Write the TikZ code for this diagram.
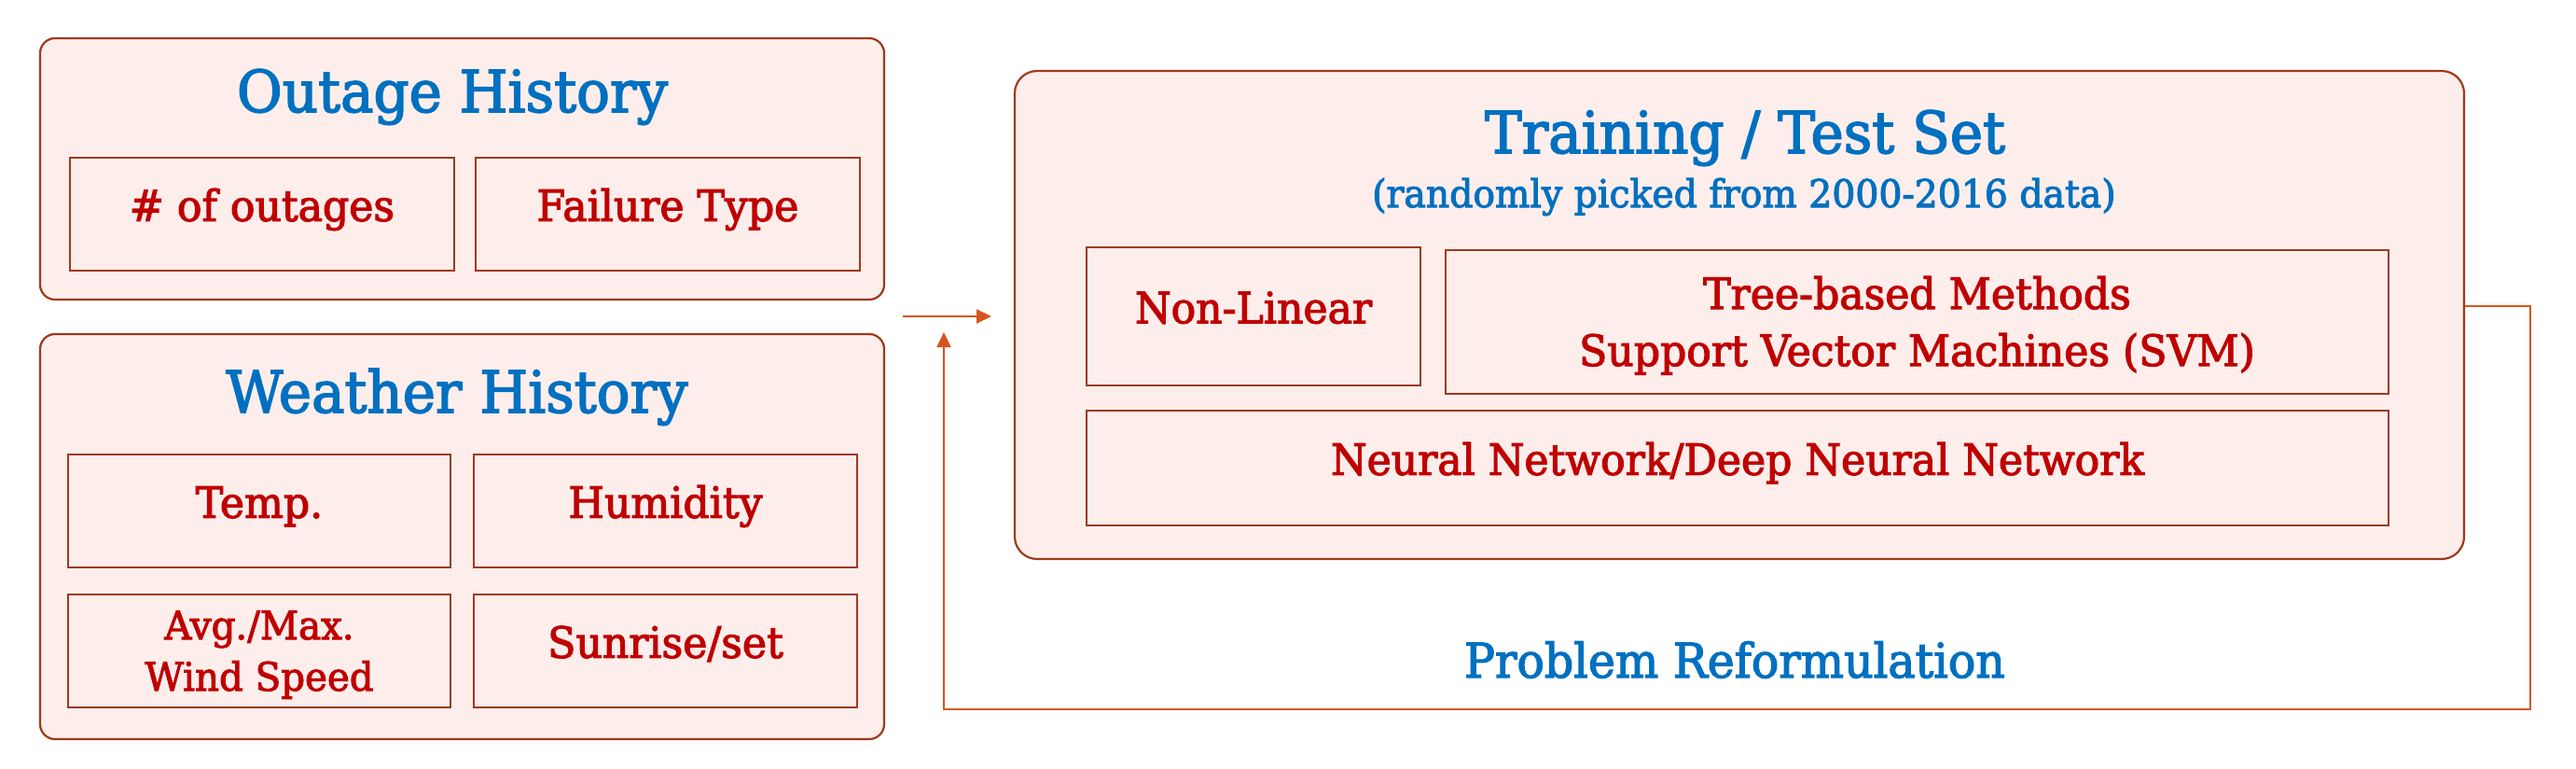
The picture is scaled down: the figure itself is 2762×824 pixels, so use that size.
\documentclass[tikz,border=0pt]{standalone}
\usepackage{fontspec}
\setmainfont{DejaVu Serif}[FakeStretch=0.96,FakeBold=2.5]
\usetikzlibrary{arrows.meta}
\definecolor{bordc}{HTML}{A0391A}
\definecolor{fillc}{HTML}{FDEEEC}
\definecolor{redt}{HTML}{C00000}
\definecolor{bluet}{HTML}{0070C0}
\definecolor{conc}{HTML}{D9541E}
\tikzset{
  outerbox/.style={draw=bordc, fill=fillc, line width=1.1pt, rounded corners=8pt, inner sep=0pt},
  bigbox/.style={outerbox, rounded corners=12pt},
  itembox/.style={draw=bordc, fill=fillc, line width=1.1pt, inner sep=0pt, align=center, text=redt,
    font=\fontsize{23pt}{29pt}\selectfont, text height=0.73em, text depth=0pt},
  emptyitem/.style={draw=bordc, fill=fillc, line width=1.1pt, inner sep=0pt},
  linetxt/.style={anchor=base, inner sep=0pt, text=redt, font=\fontsize{23pt}{29pt}\selectfont},
  smalltxt/.style={anchor=base, inner sep=0pt, text=redt, font=\fontsize{21pt}{27.5pt}\selectfont},
  titletxt/.style={anchor=base, text=bluet, inner sep=0pt, font=\fontsize{31pt}{36pt}\selectfont},
  subtxt/.style={anchor=base, text=bluet, inner sep=0pt, font=\fontsize{20.5pt}{24pt}\selectfont},
  probtxt/.style={anchor=base, text=bluet, inner sep=0pt, font=\fontsize{25.5pt}{30pt}\selectfont},
  conn/.style={draw=conc, line width=1pt},
  tip/.style={-{Triangle[length=8pt,width=7.5pt]}}
}
\begin{document}
\begin{tikzpicture}[x=0.5pt,y=-0.5pt]
\useasboundingbox (0,0) rectangle (2762,824);
% left outer boxes
\node[outerbox, minimum width=452.5pt, minimum height=140pt] (outage) at (495.5,181) {};
\node[outerbox, minimum width=452.5pt, minimum height=217pt] (weather) at (495.5,575) {};
\node[titletxt] (outt) at (485,120) {Outage History};
\node[titletxt] (weat) at (490,442) {Weather History};
\node[itembox, minimum width=206pt, minimum height=60.5pt] (nout) at (281,229.5) {\# of outages};
\node[itembox, minimum width=206pt, minimum height=60.5pt] (fail) at (716,229.5) {Failure Type};
\node[itembox, minimum width=205pt, minimum height=60.5pt] (temp) at (278,547.5) {Temp.};
\node[itembox, minimum width=205.5pt, minimum height=60.5pt] (humi) at (713.5,547.5) {Humidity};
\node[emptyitem, minimum width=205pt, minimum height=60.5pt] (wind) at (278,697.5) {};
\node[smalltxt] (wind1) at (278,685) {Avg./Max.};
\node[smalltxt] (wind2) at (278,740) {Wind Speed};
\node[itembox, minimum width=205.5pt, minimum height=60.5pt] (sun) at (713.5,697.5) {Sunrise/set};
% big box
\node[bigbox, minimum width=777pt, minimum height=261.5pt] (train) at (1865,337.5) {};
\node[titletxt] (traint) at (1871,164) {Training / Test Set};
\node[subtxt] (trains) at (1870,222) {(randomly picked from 2000-2016 data)};
\node[itembox, minimum width=179pt, minimum height=74pt] (nonlin) at (1344,339) {Non-Linear};
\node[emptyitem, minimum width=505.5pt, minimum height=77pt] (tree) at (2055.5,345) {};
\node[linetxt] (tree1) at (2055.5,331) {Tree-based Methods};
\node[linetxt] (tree2) at (2055.5,392) {Support Vector Machines (SVM)};
\node[itembox, minimum width=698pt, minimum height=61.5pt] (nn) at (1863,501.5) {Neural Network/Deep Neural Network};
\node[probtxt] (prob) at (1860,726) {Problem Reformulation};
% connectors
\coordinate (a1) at (968,339);
\coordinate (a2) at (1063,339);
\draw[conn, tip] (a1) -- (a2);
\coordinate (r1) at (2713,328);
\coordinate (r2) at (2713,760);
\coordinate (l1) at (1012,760);
\coordinate (l2) at (1012,356);
\draw[conn, tip] (train.east |- r1) -- (r1) -- (r2) -- (l1) -- (l2);
\end{tikzpicture}
\end{document}
